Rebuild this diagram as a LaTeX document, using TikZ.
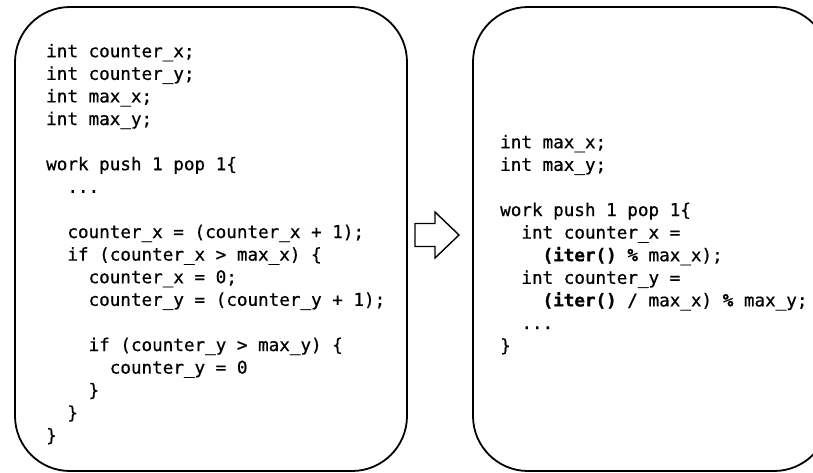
\documentclass[tikz,border=0pt]{standalone}
\usepackage{fontspec}
\newfontfamily\codefam[FakeBold=0.7,BoldFeatures={FakeBold=0.9}]{DejaVu Sans Mono}
\newcommand{\codefont}{\codefam\fontsize{17.6}{22.6}\selectfont}
\newcommand{\ind}[1]{\phantom{#1}}
\begin{document}
\begin{tikzpicture}[x=1pt,y=-1pt,
  codebox/.style={draw=black, line width=1.8pt, rounded corners=55pt},
  codetext/.style={anchor=north west, inner sep=0pt, align=left, font=\codefont},
  blockarrow/.style={draw=black, line width=1.4pt, fill=white, line join=miter}]
\useasboundingbox (0,0) rectangle (813,472);
% boxes
\draw[codebox] (15,7) rectangle (407,471);
\draw[codebox] (473,7) rectangle (829,471);
% block arrow
\draw[blockarrow] (415,223.5) -- (435,223.5) -- (435,212) -- (459,235) -- (435,258) -- (435,246.5) -- (415,246.5) -- cycle;
% left code
\node[codetext] (leftcode) at (46,42) {\rule{0pt}{15pt}int counter\_x;\\
int counter\_y;\\
int max\_x;\\
int max\_y;\\
~\\
work push 1 pop 1\{\\
\ind{xx}...\\
~\\
\ind{xx}counter\_x = (counter\_x + 1);\\
\ind{xx}if (counter\_x > max\_x) \{\\
\ind{xxxx}counter\_x = 0;\\
\ind{xxxx}counter\_y = (counter\_y + 1);\\
~\\
\ind{xxxx}if (counter\_y > max\_y) \{\\
\ind{xxxxxx}counter\_y = 0\\
\ind{xxxx}\}\\
\ind{xx}\}\\
\}};
% right code
\node[codetext] (rightcode) at (500,133) {\rule{0pt}{15pt}int max\_x;\\
int max\_y;\\
~\\
work push 1 pop 1\{\\
\ind{xx}int counter\_x =\\
\ind{xxxx}\textbf{(iter()} \textbf{\%} max\_x);\\
\ind{xx}int counter\_y =\\
\ind{xxxx}\textbf{(iter()} / max\_x) \textbf{\%} max\_y;\\
\ind{xx}...\\
\}};
\end{tikzpicture}
\end{document}
